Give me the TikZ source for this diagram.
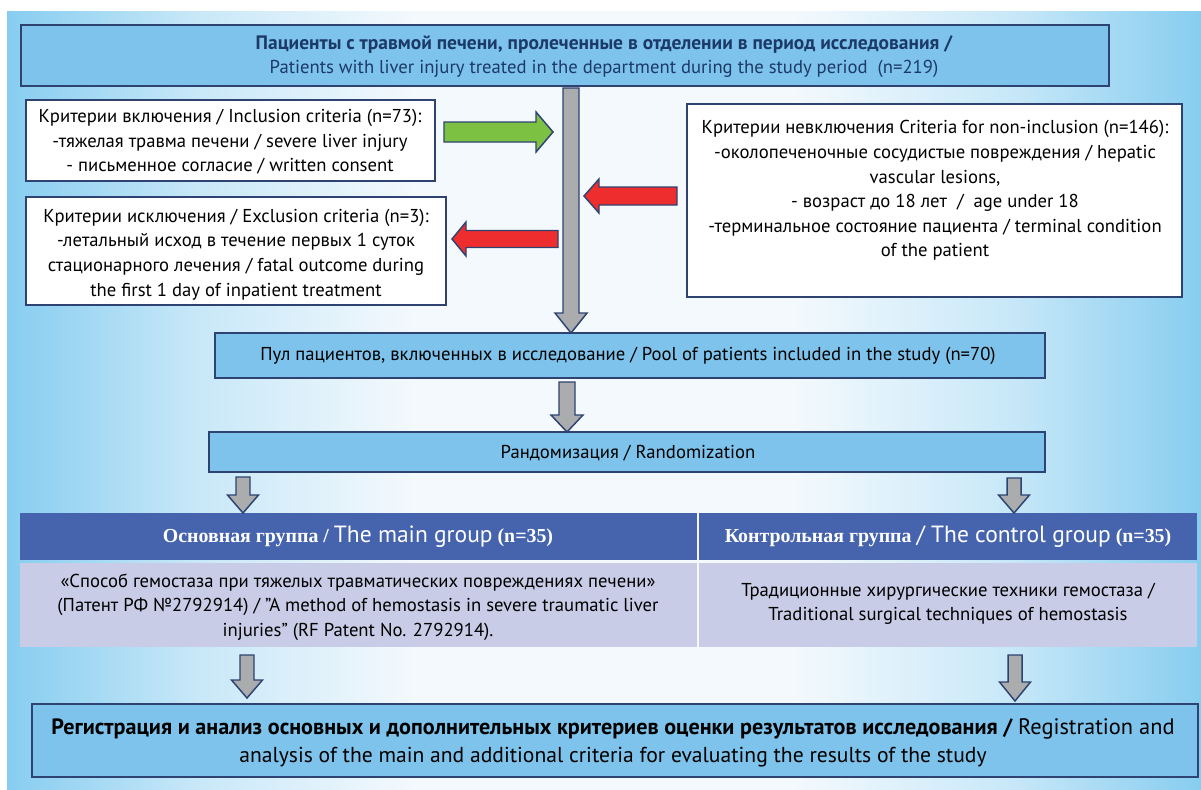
\documentclass[tikz,border=0pt]{standalone}
\usepackage{fontspec}
\setmainfont{PT Sans}
\newfontfamily\serifb{Liberation Serif}
\definecolor{boxblue}{RGB}{125,195,235}
\definecolor{navy}{RGB}{47,67,114}
\definecolor{hdrblue}{RGB}{70,100,174}
\definecolor{lav}{RGB}{200,204,230}
\definecolor{garrow}{RGB}{170,172,174}
\definecolor{arrgreen}{RGB}{125,193,66}
\definecolor{arrred}{RGB}{238,46,46}
\definecolor{topnavy}{RGB}{28,58,104}
\definecolor{bgb}{RGB}{135,205,240}
\definecolor{bgl}{RGB}{200,232,248}
\definecolor{bgw}{RGB}{243,249,253}
\pgfdeclarehorizontalshading{bgshade}{100bp}{color(0bp)=(bgb); color(25bp)=(bgb); color(33bp)=(bgl); color(42bp)=(bgw); color(58bp)=(bgw); color(67bp)=(bgl); color(75bp)=(bgb); color(100bp)=(bgb)}
\newcommand\pbox[6]{\node[#6, minimum width={(#4-#2)*0.75pt}, minimum height={(#5-#3)*0.75pt}, inner sep=0pt, outer sep=0pt, anchor=north west] (#1) at (#2,#3) {};}
% down arrow: colour, x, ytop, ytip, shaft half, head half, head length
\newcommand\dnarrow[7]{\filldraw[arrowline,fill=#1] ({#2-#5},#3) -- ({#2+#5},#3) -- ({#2+#5},{#4-#7}) -- ({#2+#6},{#4-#7}) -- (#2,#4) -- ({#2-#6},{#4-#7}) -- ({#2-#5},{#4-#7}) -- cycle;}
% horizontal arrow: colour, y, xtail, xtip, shaft half, head half, head base x
\newcommand\harrow[7]{\filldraw[arrowline,fill=#1] (#3,{#2-#5}) -- (#7,{#2-#5}) -- (#7,{#2-#6}) -- (#4,#2) -- (#7,{#2+#6}) -- (#7,{#2+#5}) -- (#3,{#2+#5}) -- cycle;}
\begin{document}
\begin{tikzpicture}[x=0.75pt,y=-0.75pt,
  bluebox/.style={draw=navy, line width=1.1pt, fill=boxblue, rectangle},
  whitebox/.style={draw=navy, line width=1.1pt, fill=white, rectangle},
  hdrcell/.style={fill=hdrblue, rectangle},
  lavcell/.style={fill=lav, rectangle},
  arrowline/.style={draw=navy, line width=1.1pt, line join=miter},
  txt/.style={align=center, inner sep=0pt, font=\fontsize{14}{18.4}\selectfont},
]
\useasboundingbox (0,0) rectangle (1201,789);
\fill[white] (0,0) rectangle (1201,789);
\shade[shading=bgshade] (7,11) rectangle (1201,789);

% boxes
\pbox{top}{21}{25}{1109}{86}{bluebox}
\pbox{incl}{26}{100}{435}{181}{whitebox}
\pbox{excl}{26}{197}{446}{305}{whitebox}
\pbox{nonincl}{687}{104}{1182}{297}{whitebox}
\pbox{pool}{215}{333}{1045}{378}{bluebox}
\pbox{rand}{209}{432}{1045}{472}{bluebox}
\pbox{mainh}{20}{513}{697}{560}{hdrcell}
\pbox{ctrlh}{699}{513}{1197}{560}{hdrcell}
\pbox{mainc}{20}{563}{697}{647}{lavcell}
\pbox{ctrlc}{699}{563}{1197}{647}{lavcell}
\pbox{result}{32}{704}{1198}{777}{bluebox}

% arrows
\dnarrow{garrow}{571}{88}{333}{8}{16}{20}
\dnarrow{garrow}{567}{382}{432}{8}{16}{17}
\dnarrow{garrow}{243}{477}{513}{7}{15.5}{18}
\dnarrow{garrow}{1014}{478}{513}{7}{15.5}{18}
\dnarrow{garrow}{247}{655}{698}{7}{15.5}{18}
\dnarrow{garrow}{1015}{655}{701}{7}{15.5}{19}
\harrow{arrgreen}{132}{444}{553}{10}{20}{536}
\harrow{arrred}{196}{677}{584}{9}{17}{599}
\harrow{arrred}{239}{558}{452}{8.5}{17}{466}

% texts
\node[txt, text=topnavy] (tTop) at (604,56.5) {{\fontsize{14.6}{18.4}\selectfont\bfseries Пациенты с травмой печени, пролеченные в отделении в период исследования /}\\Patients with liver injury treated in the department during the study period\ \ (n=219)};
\node[txt] (tIncl) at (230,142) {Критерии включения / Inclusion criteria (n=73):\\-тяжелая травма печени / severe liver injury\\- письменное согласие / written consent};
\node[txt] (tExcl) at (236,254.5) {Критерии исключения / Exclusion criteria (n=3):\\-летальный исход в течение первых 1 суток\\стационарного лечения / fatal outcome during\\the first 1 day of inpatient treatment};
\node[txt] (tNon) at (935,190.5) {Критерии невключения Criteria for non-inclusion (n=146):\\-околопеченочные сосудистые повреждения / hepatic\\vascular lesions,\\- возраст до 18 лет\ \ /\ \ age under 18\\-терминальное состояние пациента / terminal condition\\of the patient};
\node[txt] (tPool) at (628,356) {Пул пациентов, включенных в исследование / Pool of patients included in the study (n=70)};
\node[txt] (tRand) at (628,453) {Рандомизация / Randomization};
\node[txt, text=white] (tMainH) at (358,537) {{\serifb\bfseries\fontsize{14.9}{16}\selectfont Основная группа /} {\fontsize{17.6}{20}\selectfont The main group} {\serifb\bfseries\fontsize{14.9}{16}\selectfont (n=35)}};
\node[txt, text=white] (tCtrlH) at (948,537) {{\serifb\bfseries\fontsize{14.9}{16}\selectfont Контрольная группа} {\fontsize{17.6}{20}\selectfont / The control group} {\serifb\bfseries\fontsize{14.9}{16}\selectfont (n=35)}};
\node[txt] (tMainC) at (358,607) {«Способ гемостаза при тяжелых травматических повреждениях печени»\\(Патент РФ №2792914) / "A method of hemostasis in severe traumatic liver\\injuries" (RF Patent No. 2792914).};
\node[txt] (tCtrlC) at (948,604) {Традиционные хирургические техники гемостаза /\\Traditional surgical techniques of hemostasis};
\node[txt, font=\fontsize{16.2}{21}\selectfont] (tRes) at (613,743) {{\fontsize{16.6}{21}\selectfont\bfseries Регистрация и анализ основных и дополнительных критериев оценки результатов исследования /} {\fontsize{16.8}{21}\selectfont Registration and}\\analysis of the main and additional criteria for evaluating the results of the study};
\end{tikzpicture}
\end{document}
